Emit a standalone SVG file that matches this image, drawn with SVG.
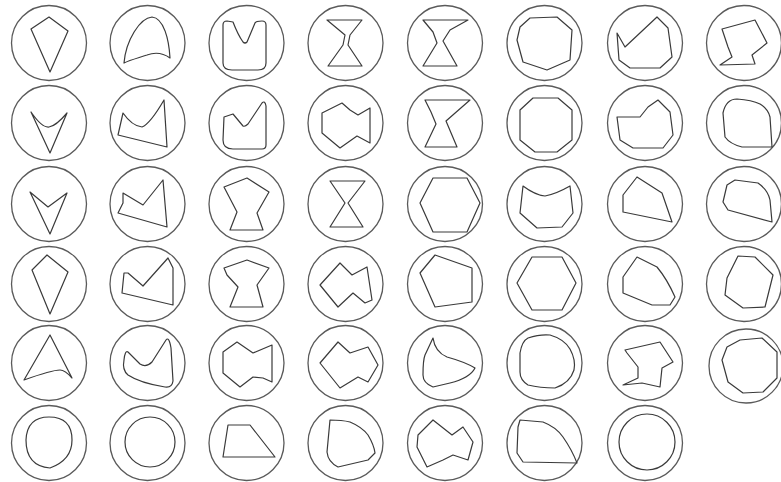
<svg xmlns="http://www.w3.org/2000/svg" width="781" height="482" viewBox="0 0 781 482">
<style>
.o{fill:none;stroke:#5a5a5a;stroke-width:1.3}
.s{fill:none;stroke:#3a3a3a;stroke-width:1.2;stroke-linejoin:round}
</style>
<rect width="781" height="482" fill="#fff"/>
<!-- row 1 -->
<g id="c1_1"><circle class="o" cx="49" cy="43" r="37.5"/><polygon class="s" points="49,17 68,31 50,72 31,29"/></g>
<g id="c1_2"><circle class="o" cx="147.5" cy="43" r="37.5"/><path class="s" d="M124,63 C126,40 140,18 152,17 C164,18 169,40 170,58 C163,53 155,52 147,55 C138,58 130,60 124,63 Z"/></g>
<g id="c1_3"><circle class="o" cx="246.5" cy="43" r="37.5"/><path class="s" d="M223,25 Q223,21 227,21 L233,22 Q238,35 243,42 Q245,44 247,42 L255,23 Q256,21 262,21 Q266,21 266,25 L266,63 Q266,70 258,70 L232,70 Q223,70 223,63 Z"/></g>
<g id="c1_4"><circle class="o" cx="345.5" cy="43" r="37.5"/><polygon class="s" points="327,20 362,20 350,35 348,45 362,66 328,66 343,45 345,35"/></g>
<g id="c1_5"><circle class="o" cx="445" cy="43" r="37.5"/><polygon class="s" points="423,20 468,20 450,30 443,41 457,66 423,66 437,43 433,32"/></g>
<g id="c1_6"><circle class="o" cx="544.5" cy="43" r="37.5"/><polygon class="s" points="530,18 557,17 572,30 570,60 547,70 523,62 517,40 520,27"/></g>
<g id="c1_7"><circle class="o" cx="645" cy="43" r="37.5"/><polygon class="s" points="617,33 625,47 657,17 668,28 672,57 660,68 630,68 619,60"/></g>
<g id="c1_8"><circle class="o" cx="744" cy="43" r="37.5"/><polygon class="s" points="722,29 755,20 767,43 752,55 755,64 720,65 732,57 728,47"/></g>
<!-- row 2 -->
<g id="c2_1"><circle class="o" cx="49" cy="123" r="37.5"/><path class="s" d="M31,112 Q42,128 49,127 Q56,126 67,113 L50,153 Z"/></g>
<g id="c2_2"><circle class="o" cx="147.5" cy="123" r="37.5"/><path class="s" d="M123,113 Q132,126 142,127 Q150,124 164,100 L167,147 L118,135 Z"/></g>
<g id="c2_3"><circle class="o" cx="246.5" cy="123" r="37.5"/><path class="s" d="M224,117 L233,114 Q238,120 243,126 Q245,127 248,124 L262,103 Q265,100 266,106 L266,145 Q266,149 262,149 L233,149 Q223,149 223,140 Z"/></g>
<g id="c2_4"><circle class="o" cx="345.5" cy="123" r="37.5"/><polygon class="s" points="322,113 342,103 350,110 358,115 370,108 370,143 357,136 340,148 322,133"/></g>
<g id="c2_5"><circle class="o" cx="445" cy="123" r="37.5"/><polygon class="s" points="425,100 470,100 446,121 457,147 425,147 436,124 431,112"/></g>
<g id="c2_6"><circle class="o" cx="544.5" cy="123" r="37.5"/><polygon class="s" points="533,98 558,98 572,110 572,140 557,152 535,152 520,140 520,110"/></g>
<g id="c2_7"><circle class="o" cx="645" cy="123" r="37.5"/><polygon class="s" points="617,117 640,117 648,107 658,100 670,112 673,135 663,148 633,148 620,140"/></g>
<g id="c2_8"><circle class="o" cx="744" cy="123" r="37.5"/><path class="s" d="M737,99 Q752,100 760,104 Q768,109 770,117 L772,147 L742,147 Q730,144 725,137 L723,113 Q726,99 737,99 Z"/></g>
<!-- row 3 -->
<g id="c3_1"><circle class="o" cx="49" cy="204" r="37.5"/><polygon class="s" points="30,192 48,207 67,193 50,234"/></g>
<g id="c3_2"><circle class="o" cx="147.5" cy="204" r="37.5"/><polygon class="s" points="123,193 143,205 163,180 167,227 118,213 123,203"/></g>
<g id="c3_3"><circle class="o" cx="246.5" cy="204" r="37.5"/><polygon class="s" points="224,187 247,178 269,192 257,213 263,230 230,230 237,212"/></g>
<g id="c3_4"><circle class="o" cx="345.5" cy="204" r="37.5"/><polygon class="s" points="330,181 365,181 348,203 363,227 330,227 345,203"/></g>
<g id="c3_5"><circle class="o" cx="445" cy="204" r="37.5"/><polygon class="s" points="433,178 467,178 480,203 467,232 433,232 420,203"/></g>
<g id="c3_6"><circle class="o" cx="544.5" cy="204" r="37.5"/><path class="s" d="M523,186 Q535,195 545,196 Q556,194 570,186 L573,213 L562,227 L537,228 L520,213 Z"/></g>
<g id="c3_7"><circle class="o" cx="645" cy="204" r="37.5"/><polygon class="s" points="637,177 662,193 672,222 623,212 623,195"/></g>
<g id="c3_8"><circle class="o" cx="744" cy="204" r="37.5"/><path class="s" d="M735,180 L758,183 Q768,190 770,200 L772,222 L728,210 L723,202 L727,185 Z"/></g>
<!-- row 4 -->
<g id="c4_1"><circle class="o" cx="49" cy="284" r="37.5"/><polygon class="s" points="32,270 47,255 68,272 50,314"/></g>
<g id="c4_2"><circle class="o" cx="147.5" cy="284" r="37.5"/><polygon class="s" points="124,273 128,273 143,286 168,258 173,268 173,305 122,293"/></g>
<g id="c4_3"><circle class="o" cx="246.5" cy="284" r="37.5"/><polygon class="s" points="224,268 247,260 269,268 257,285 263,307 230,307 238,287 227,275"/></g>
<g id="c4_4"><circle class="o" cx="345.5" cy="284" r="37.5"/><polygon class="s" points="320,285 340,263 352,275 367,267 372,300 365,303 353,293 338,307"/></g>
<g id="c4_5"><circle class="o" cx="445" cy="284" r="37.5"/><polygon class="s" points="435,255 472,268 472,302 435,307 420,273"/></g>
<g id="c4_6"><circle class="o" cx="544.5" cy="284" r="37.5"/><polygon class="s" points="532,257 562,257 576,283 562,310 532,310 517,283"/></g>
<g id="c4_7"><circle class="o" cx="645" cy="284" r="37.5"/><path class="s" d="M637,257 L657,267 Q667,279 675,297 L670,305 L652,305 L623,293 L623,277 Z"/></g>
<g id="c4_8"><circle class="o" cx="744" cy="284" r="37.5"/><polygon class="s" points="738,256 755,257 773,275 765,307 743,308 725,295 727,278"/></g>
<!-- row 5 -->
<g id="c5_1"><circle class="o" cx="49" cy="363" r="37.5"/><path class="s" d="M50,335 L72,378 Q65,370 60,370 Q52,370 24,380 Z"/></g>
<g id="c5_2"><circle class="o" cx="147.5" cy="363" r="37.5"/><path class="s" d="M124,360 Q125,350 128,352 L140,364 Q146,368 152,362 L166,340 Q169,336 171,348 L173,381 Q172,388 165,387 Q140,383 128,375 Q122,370 124,360 Z"/></g>
<g id="c5_3"><circle class="o" cx="246.5" cy="363" r="37.5"/><polygon class="s" points="223,352 237,342 253,353 272,345 272,382 263,378 253,377 240,387 223,373"/></g>
<g id="c5_4"><circle class="o" cx="345.5" cy="363" r="37.5"/><polygon class="s" points="320,363 338,342 350,353 368,347 378,365 368,382 358,377 340,388"/></g>
<g id="c5_5"><circle class="o" cx="445" cy="363" r="37.5"/><path class="s" d="M433,338 Q435,352 447,357 Q465,362 475,368 Q470,378 450,383 L433,387 Q423,383 423,375 Q423,360 425,355 Z"/></g>
<g id="c5_6"><circle class="o" cx="544.5" cy="363" r="37.5"/><path class="s" d="M528,338 Q540,334 550,335 Q564,339 570,349 Q576,360 574,370 Q570,383 555,388 Q540,388 528,385 Q520,380 520,372 L520,353 Q522,341 528,338 Z"/></g>
<g id="c5_7"><circle class="o" cx="645" cy="363" r="37.5"/><polygon class="s" points="625,350 660,342 673,362 662,368 660,387 642,383 623,385 638,378 638,367 627,353"/></g>
<g id="c5_8"><circle class="o" cx="746" cy="366" r="37"/><polygon class="s" points="740,340 762,338 777,352 777,378 763,392 743,393 728,382 722,360 727,347"/></g>
<!-- row 6 -->
<g id="c6_1"><circle class="o" cx="49" cy="443" r="37.5"/><path class="s" d="M49,417 Q72,417 72,440 Q72,460 50,468 Q26,466 26,440 Q27,417 49,417 Z"/></g>
<g id="c6_2"><circle class="o" cx="147.5" cy="443" r="37.5"/><circle class="s" cx="150" cy="442" r="25"/></g>
<g id="c6_3"><circle class="o" cx="246.5" cy="443" r="37.5"/><polygon class="s" points="228,425 250,425 275,457 223,457"/></g>
<g id="c6_4"><circle class="o" cx="345.5" cy="443" r="37.5"/><path class="s" d="M330,420 Q342,420 350,422 Q362,427 368,435 Q374,445 375,453 L368,460 L338,467 Q328,462 327,452 Z"/></g>
<g id="c6_5"><circle class="o" cx="445" cy="443" r="37.5"/><polygon class="s" points="418,435 433,420 452,435 463,427 473,442 468,460 453,455 443,460 427,467 417,447"/></g>
<g id="c6_6"><circle class="o" cx="544.5" cy="443" r="37.5"/><path class="s" d="M520,420 L543,422 Q556,427 563,437 Q572,450 577,463 L523,462 L517,453 L518,427 Z"/></g>
<g id="c6_7"><circle class="o" cx="645" cy="443" r="37.5"/><circle class="s" cx="647" cy="442" r="28"/></g>
</svg>
